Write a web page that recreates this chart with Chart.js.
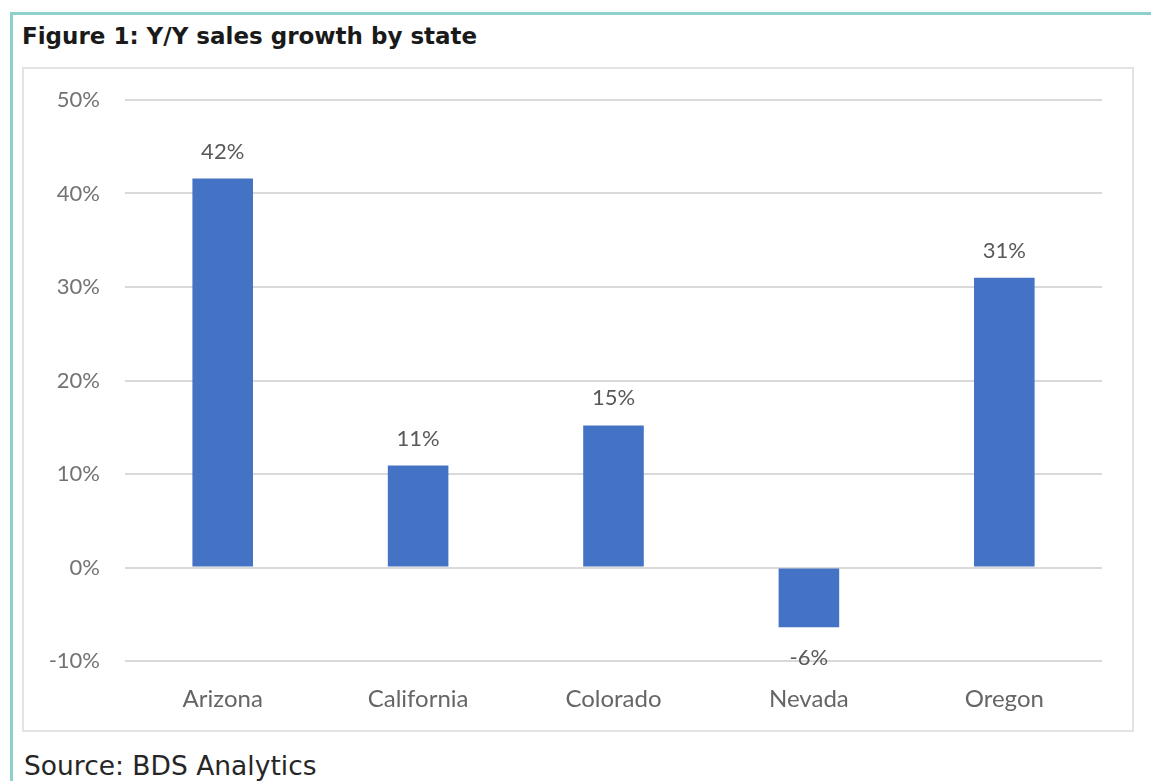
<!DOCTYPE html>
<html lang="en">
<head>
    <meta charset="UTF-8">
    <title>Y/Y sales growth by state</title>
    <script src="https://cdn.jsdelivr.net/npm/chart.js@4.4.1/dist/chart.umd.min.js"></script>
    <style>
        * {
            margin: 0;
            padding: 0;
            box-sizing: border-box;
        }

        body {
            width: 1151px;
            height: 781px;
            overflow: hidden;
            background: #fff;
            position: relative;
        }

        .frame {
            position: absolute;
            left: 10px;
            top: 12px;
            width: 1170px;
            height: 820px;
            border: 3px solid #8ed1cc;
        }

        .title {
            position: absolute;
            left: 22px;
            top: 23px;
            font-family: 'DejaVu Sans', Verdana, sans-serif;
            font-weight: bold;
            font-size: 23px;
            color: #1a1a1a;
        }

        .box {
            position: absolute;
            left: 22px;
            top: 67px;
            width: 1112px;
            height: 665px;
            border: 2px solid #e3e3e3;
        }

        #chart {
            position: absolute;
            left: 0;
            top: 0;
        }

        .source {
            position: absolute;
            left: 24px;
            top: 750px;
            font-family: 'DejaVu Sans', Verdana, sans-serif;
            font-size: 26.5px;
            color: #262626;
        }
    </style>
</head>
<body>
    <div class="frame"></div>
    <div class="title">Figure 1: Y/Y sales growth by state</div>
    <div class="box">
        <canvas id="chart" width="1108" height="661"></canvas>
    </div>
    <div class="source">Source: BDS Analytics</div>

    <script>
        // chart data
        const states = ["Arizona", "California", "Colorado", "Nevada", "Oregon"];
        const growth = [41.6, 10.9, 15.2, -6.4, 31.0];
        const yTicks = [-10, 0, 10, 20, 30, 40, 50];

        const barColor = "#4472c4";
        const labelFont = "Lato, 'Open Sans', sans-serif";

        // value labels above / below bars
        const valueLabels = {
            id: "valueLabels",
            afterDatasetsDraw(chart) {
                const ctx = chart.ctx;
                const meta = chart.getDatasetMeta(0);
                ctx.save();
                ctx.font = "22px " + labelFont;
                ctx.fillStyle = "#595959";
                ctx.textAlign = "center";
                ctx.textBaseline = "alphabetic";
                meta.data.forEach((bar, i) => {
                    const v = growth[i];
                    const txt = Math.round(v) + "%";
                    if (v >= 0) {
                        ctx.fillText(txt, bar.x, bar.y - 20);
                    } else {
                        ctx.fillText(txt, bar.x, bar.y + 38);
                    }
                });
                ctx.restore();
            }
        };

        new Chart(document.getElementById("chart"), {
            type: "bar",
            data: {
                labels: states,
                datasets: [{
                    data: growth,
                    backgroundColor: barColor,
                    barPercentage: 0.31,
                    categoryPercentage: 1.0
                }]
            },
            plugins: [valueLabels],
            options: {
                responsive: false,
                animation: false,
                layout: {
                    padding: { top: 31, right: 30, left: 0, bottom: 0 }
                },
                plugins: {
                    legend: { display: false },
                    tooltip: { enabled: false }
                },
                scales: {
                    x: {
                        grid: { display: false, drawTicks: false },
                        border: { display: false },
                        ticks: {
                            padding: 24,
                            color: "#666",
                            font: { family: labelFont, size: 24 }
                        },
                        afterFit(axis) { axis.height = 69; }
                    },
                    y: {
                        min: -10,
                        max: 50,
                        afterBuildTicks(axis) {
                            axis.ticks = yTicks.map(v => ({ value: v }));
                        },
                        grid: {
                            color: "#d9d9d9",
                            lineWidth: 2,
                            drawTicks: false
                        },
                        border: { display: false },
                        ticks: {
                            padding: 25,
                            color: "#737373",
                            font: { family: labelFont, size: 22 },
                            callback: v => v + "%"
                        },
                        afterFit(axis) {
                            axis.width = 101;
                            axis.paddingTop = 0;
                            axis.paddingBottom = 0;
                        }
                    }
                }
            }
        });
    </script>
</body>
</html>
